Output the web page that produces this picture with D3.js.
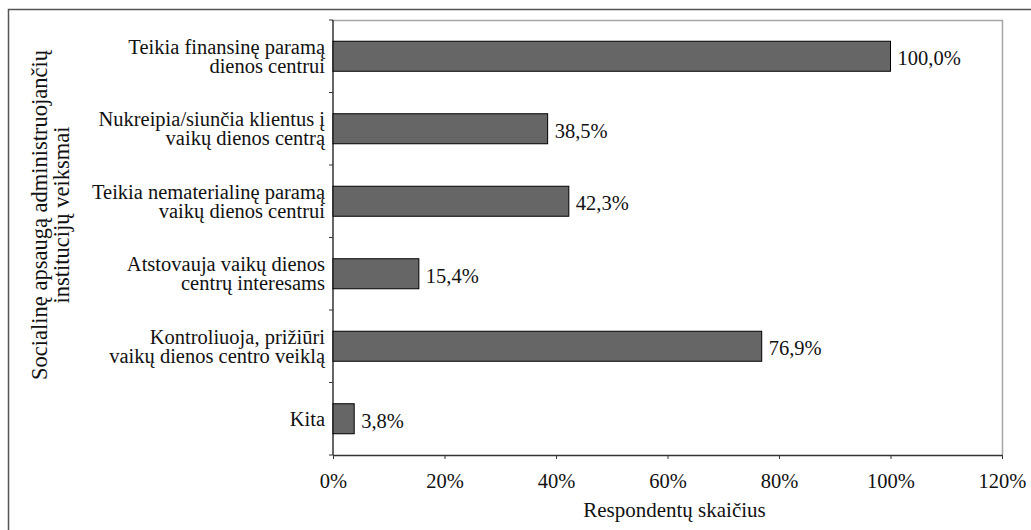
<!DOCTYPE html>
<html>
<head>
<meta charset="utf-8">
<script src="https://cdn.jsdelivr.net/npm/d3@7"></script>
<style>
  body { margin: 0; background: #fff; }
  svg text { font-family: "Liberation Serif", "Times New Roman", serif; fill: #111; }
</style>
</head>
<body>
<div id="chart"></div>
<script>
// category labels (each line of the wrapped label)
const categories = [
    ["Teikia finansinę paramą", "dienos centrui"],
    ["Nukreipia/siunčia klientus į", "vaikų dienos centrą"],
    ["Teikia nematerialinę paramą", "vaikų dienos centrui"],
    ["Atstovauja vaikų dienos", "centrų interesams"],
    ["Kontroliuoja, prižiūri", "vaikų dienos centro veiklą"],
    ["Kita"]
];
const values = [100.0, 38.5, 42.3, 15.4, 76.9, 3.8];
const xTicks = [0, 20, 40, 60, 80, 100, 120];
const xTitle = "Respondentų skaičius";
const yTitle = ["Socialinę apsaugą administruojančių", "institucijų veiksmai"];

const W = 1031, H = 530;
const margin = { top: 20, right: 29, bottom: 75, left: 333 };
const width = W - margin.left - margin.right;
const height = H - margin.top - margin.bottom;
const fs = 20.5;

const svg = d3.select("#chart").append("svg")
    .attr("width", W)
    .attr("height", H);

// outer frame
svg.append("rect")
    .attr("x", 8.5).attr("y", 9.5)
    .attr("width", W + 10).attr("height", H + 10)
    .attr("fill", "none")
    .attr("stroke", "#555")
    .attr("stroke-width", 1.5);

const g = svg.append("g")
    .attr("transform", "translate(" + margin.left + "," + margin.top + ")");

const x = d3.scaleLinear().domain([0, 120]).range([0, width]);
const y = d3.scaleBand().domain(d3.range(categories.length)).range([0, height]).paddingInner(0.586).paddingOuter(0.293);

// plot area border (grey top/right)
g.append("path")
    .attr("d", "M0,0.5H" + (width + 0.5) + "V" + height)
    .attr("fill", "none")
    .attr("stroke", "#a6a6a6")
    .attr("stroke-width", 1.5);

// x axis
const xAxis = g.append("g")
    .attr("transform", "translate(0," + height + ")")
    .call(d3.axisBottom(x).tickValues(xTicks).tickFormat(d => d + "%").tickSize(4).tickSizeOuter(0).tickPadding(14));
xAxis.select(".domain").attr("stroke", "#333").attr("stroke-width", 1.5);
xAxis.selectAll(".tick line").attr("stroke", "#333");
xAxis.selectAll("text").attr("font-size", fs).attr("dy", "14.5px");

// y axis: tick marks between the bands
const yEdges = d3.range(categories.length + 1).map(i => height * i / categories.length);
g.append("line")
    .attr("x1", 0).attr("x2", 0).attr("y1", 0).attr("y2", height)
    .attr("stroke", "#333").attr("stroke-width", 1.5);
g.selectAll(".ytick").data(yEdges).enter().append("line")
    .attr("class", "ytick")
    .attr("x1", -4).attr("x2", 0)
    .attr("y1", d => d).attr("y2", d => d)
    .attr("stroke", "#333");

// category labels
const lineH = 19;
const labels = g.selectAll(".cat").data(categories).enter().append("text")
    .attr("class", "cat")
    .attr("text-anchor", "end")
    .attr("font-size", fs)
    .attr("x", -8)
    .attr("y", (d, i) => y(i) + y.bandwidth() / 2 - (d.length - 1) * lineH / 2 + 7);
labels.selectAll("tspan").data(d => d).enter().append("tspan")
    .attr("x", -8)
    .attr("dy", (d, i) => i === 0 ? 0 : lineH)
    .text(d => d);

// bars
g.selectAll(".bar").data(values).enter().append("rect")
    .attr("class", "bar")
    .attr("x", 0)
    .attr("y", (d, i) => y(i))
    .attr("width", d => x(d))
    .attr("height", y.bandwidth())
    .attr("fill", "#666666")
    .attr("stroke", "#000")
    .attr("stroke-width", 1);

// value labels
g.selectAll(".val").data(values).enter().append("text")
    .attr("class", "val")
    .attr("x", d => x(d) + 7)
    .attr("y", (d, i) => y(i) + y.bandwidth() / 2 + 9)
    .attr("font-size", fs)
    .text(d => d.toFixed(1).replace(".", ",") + "%");

// x axis title
g.append("text")
    .attr("x", width / 2 + 7)
    .attr("y", height + 62)
    .attr("text-anchor", "middle")
    .attr("font-size", 21)
    .text(xTitle);

// y axis title
const yt = svg.append("text")
    .attr("transform", "translate(47,215) rotate(-90)")
    .attr("text-anchor", "middle")
    .attr("font-size", 22.5);
yt.selectAll("tspan").data(yTitle).enter().append("tspan")
    .attr("x", 0)
    .attr("dy", (d, i) => i === 0 ? 0 : 22)
    .text(d => d);
</script>
</body>
</html>
